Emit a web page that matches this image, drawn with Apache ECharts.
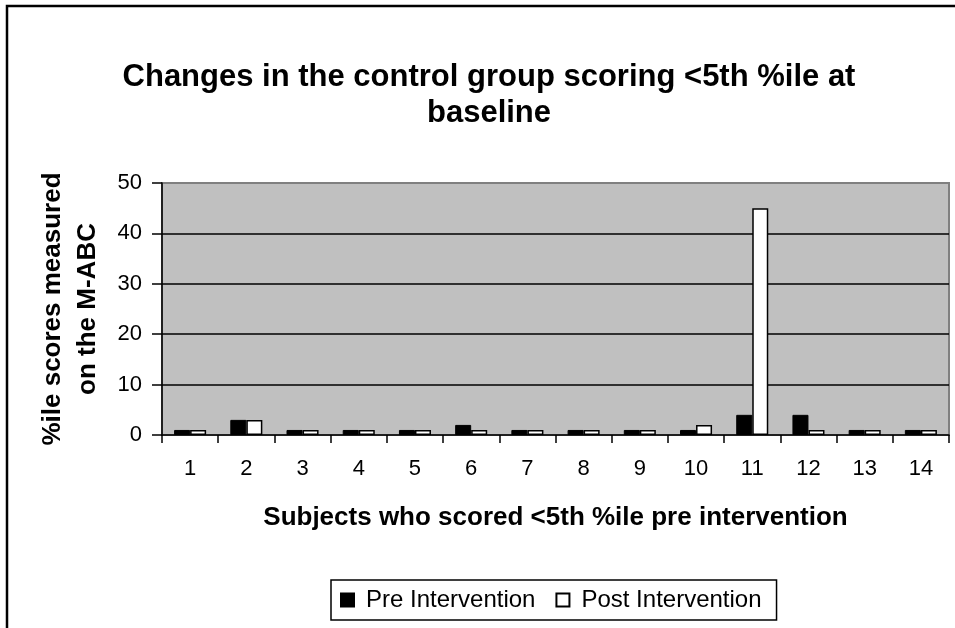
<!DOCTYPE html>
<html>
<head>
<meta charset="utf-8">
<script src="https://cdn.jsdelivr.net/npm/echarts@6/dist/echarts.min.js"></script>
<style>
  html, body { margin: 0; padding: 0; background: #fff; }
  #chart { width: 955px; height: 628px; }
</style>
</head>
<body>
<div id="chart"></div>
<script>
// Subjects (control group) scoring below the 5th percentile at baseline
const subjects = ['1', '2', '3', '4', '5', '6', '7', '8', '9', '10', '11', '12', '13', '14'];
// M-ABC percentile scores before and after the intervention period
const preIntervention = [1, 3, 1, 1, 1, 2, 1, 1, 1, 1, 4, 4, 1, 1];
const postIntervention = [1, 3, 1, 1, 1, 1, 1, 1, 1, 2, 45, 1, 1, 1];
const yTicks = { min: 0, max: 50, step: 10 };

const FONT = '"Liberation Sans", Arial, sans-serif';
const chart = echarts.init(document.getElementById('chart'), null, { renderer: 'canvas' });

chart.setOption({
  animation: false,
  backgroundColor: '#fff',
  textStyle: { fontFamily: FONT, color: '#000' },
  title: {
    text: 'Changes in the control group scoring <5th %ile at\nbaseline',
    left: 484,
    textAlign: 'center',
    top: 54,
    textStyle: { fontFamily: FONT, fontSize: 31, fontWeight: 'bold', color: '#000', lineHeight: 36 }
  },
  graphic: [
    // chart-area frame (runs past the right and bottom edges)
    { type: 'rect', shape: { x: 7, y: 6, width: 1200, height: 1000 },
      style: { fill: 'none', stroke: '#000', lineWidth: 2.5 }, z: 100 }
  ],
  legend: {
    data: ['Pre Intervention', 'Post Intervention'],
    left: 331,
    top: 580,
    orient: 'horizontal',
    icon: 'rect',
    itemWidth: 13,
    itemHeight: 13,
    itemGap: 20,
    padding: [8, 15, 8, 9],
    borderColor: '#000',
    borderWidth: 1.5,
    textStyle: { fontFamily: FONT, fontSize: 24, color: '#000', padding: [0, 0, 0, 7] }
  },
  grid: {
    left: 162, right: 6, top: 183, bottom: 193,
    show: true,
    backgroundColor: '#C0C0C0',
    borderColor: '#808080',
    borderWidth: 2
  },
  xAxis: {
    type: 'category',
    data: subjects,
    name: 'Subjects who scored <5th %ile pre intervention',
    nameLocation: 'middle',
    nameGap: 70,
    nameTextStyle: { fontFamily: FONT, fontSize: 26, fontWeight: 'bold', color: '#000' },
    axisLine: { show: true, lineStyle: { color: '#000', width: 1.5 } },
    axisTick: { show: true, alignWithLabel: false, length: 8, lineStyle: { color: '#000', width: 1.5 } },
    axisLabel: { margin: 23, fontFamily: FONT, fontSize: 22, color: '#000' },
    splitLine: { show: false }
  },
  yAxis: {
    type: 'value',
    min: yTicks.min,
    max: yTicks.max,
    interval: yTicks.step,
    name: '%ile scores measured\non the M-ABC',
    nameLocation: 'middle',
    nameGap: 57,
    nameRotate: 90,
    nameTextStyle: { fontFamily: FONT, fontSize: 26, fontWeight: 'bold', color: '#000', lineHeight: 35, align: 'center' },
    axisLine: { show: true, lineStyle: { color: '#000', width: 1.5 } },
    axisTick: { show: true, length: 10, lineStyle: { color: '#000', width: 1.5 } },
    axisLabel: { margin: 20, fontFamily: FONT, fontSize: 22, color: '#000' },
    splitLine: { show: true, showMaxLine: false, showMinLine: false, lineStyle: { color: '#000', width: 1.5 } }
  },
  series: [
    {
      name: 'Pre Intervention',
      type: 'bar',
      data: preIntervention,
      barGap: '0%',
      barCategoryGap: '43%',
      itemStyle: { color: '#000', borderColor: '#000', borderWidth: 1 }
    },
    {
      name: 'Post Intervention',
      type: 'bar',
      data: postIntervention,
      itemStyle: { color: '#fff', borderColor: '#000', borderWidth: 1.5 }
    }
  ]
});
</script>
</body>
</html>
